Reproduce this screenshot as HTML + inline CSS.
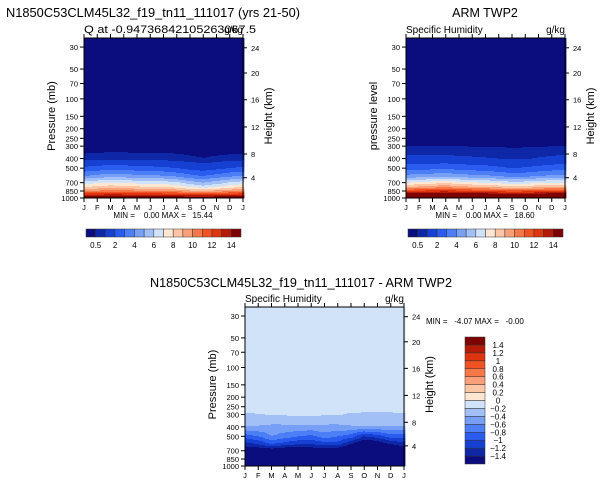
<!DOCTYPE html>
<html><head><meta charset="utf-8"><style>
body{margin:0;background:#fff;}
svg{display:block;font-family:"Liberation Sans",sans-serif;}
text{white-space:pre;}
</style></head><body>
<svg id="fig" width="601" height="485" viewBox="0 0 601 485">
<g id="root"></g>
</svg>
<script>
// ---------- data ----------
const months = ["J","F","M","A","M","J","J","A","S","O","N","D","J"];
const pLevels = [1000, 925, 850, 775, 700, 600, 500, 400, 300, 250, 30];
const pTicks = [30, 50, 70, 100, 150, 200, 250, 300, 400, 500, 700, 850, 1000];
const zTicks = [24, 20, 16, 12, 8, 4];
const zTickPressure = [30.5, 54.8, 102, 192, 360, 624];
// model Q (g/kg), rows = pLevels, cols = months
const modelQ = [
 [15.4,15.4,15.4,15.4,15.4,15.3,15.3,15.2,15.0,15.0,15.2,15.3,15.4],
 [13.0,13.0,13.2,13.1,13.0,13.0,12.9,12.8,12.5,12.4,12.6,12.9,13.0],
 [10.0,10.2,10.5,10.4,10.2,10.1,10.0, 9.8, 9.3, 9.0, 9.4, 9.8,10.0],
 [ 8.0, 8.3, 8.6, 8.4, 8.2, 8.1, 8.0, 7.7, 7.0, 6.5, 7.0, 7.6, 8.0],
 [ 6.5, 6.8, 7.0, 6.9, 6.7, 6.6, 6.5, 6.2, 5.5, 5.0, 5.5, 6.1, 6.5],
 [ 4.0, 4.3, 4.6, 4.5, 4.3, 4.2, 4.1, 3.8, 3.3, 3.0, 3.4, 3.8, 4.0],
 [ 2.2, 2.4, 2.6, 2.5, 2.4, 2.3, 2.2, 2.0, 1.7, 1.5, 1.7, 2.0, 2.2],
 [ 0.7, 0.75,0.8, 0.78,0.75,0.72,0.72,0.7, 0.6, 0.52,0.6, 0.66,0.7],
 [ 0.2, 0.21,0.22,0.22,0.21,0.21,0.21,0.2, 0.18,0.17,0.18,0.19,0.2],
 [ 0.1, 0.1, 0.1, 0.1, 0.1, 0.1, 0.1, 0.1, 0.1, 0.1, 0.1, 0.1, 0.1],
 [ 0,0,0,0,0,0,0,0,0,0,0,0,0]
];
// ARM TWP2 observed Q (g/kg)
const obsQ = [
 [18.0,18.2,18.3,18.4,18.3,18.2,18.0,17.9,17.8,17.9,18.0,18.1,18.0],
 [15.0,15.2,15.5,15.6,15.3,15.1,15.0,14.8,14.6,14.7,14.9,15.0,15.0],
 [12.0,12.2,12.5,12.7,12.3,12.1,12.0,11.7,11.5,11.6,11.8,12.0,12.0],
 [ 9.0, 9.3, 9.6, 9.9, 9.4, 9.2, 9.0, 8.7, 8.4, 8.5, 8.8, 9.0, 9.0],
 [ 7.0, 7.2, 7.5, 7.8, 7.4, 7.1, 7.0, 6.7, 6.4, 6.5, 6.8, 7.0, 7.0],
 [ 4.3, 4.4, 4.6, 4.7, 4.5, 4.3, 4.2, 3.9, 3.6, 3.7, 4.0, 4.2, 4.3],
 [ 2.6, 2.6, 2.7, 2.8, 2.6, 2.5, 2.4, 2.2, 2.0, 2.1, 2.3, 2.5, 2.6],
 [ 1.2, 1.2, 1.2, 1.2, 1.15,1.1, 1.05,1.0, 0.9, 0.95,1.05,1.15,1.2],
 [ 0.5, 0.5, 0.5, 0.5, 0.49,0.48,0.47,0.46,0.44,0.45,0.47,0.49,0.5],
 [ 0.3, 0.3, 0.3, 0.3, 0.3, 0.3, 0.29,0.28,0.27,0.27,0.28,0.29,0.3],
 [ 0,0,0,0,0,0,0,0,0,0,0,0,0]
];
// difference model - obs
const diffQ = [
 [-2.6,-2.8,-2.9,-3.0,-2.9,-2.9,-2.7,-2.7,-2.8,-2.9,-2.8,-2.8,-2.6],
 [-2.0,-2.2,-2.3,-2.5,-2.3,-2.1,-2.1,-2.0,-2.1,-2.3,-2.3,-2.1,-2.0],
 [-2.0,-2.0,-2.0,-2.3,-2.1,-2.0,-2.0,-1.9,-2.2,-2.6,-2.4,-2.2,-2.0],
 [-1.8,-1.8,-1.8,-2.0,-1.9,-1.8,-1.8,-1.7,-2.0,-2.3,-2.1,-1.9,-1.8],
 [-1.6,-1.6,-1.6,-1.7,-1.7,-1.6,-1.6,-1.6,-1.9,-2.0,-1.9,-1.7,-1.6],
 [-1.3,-1.2,-1.0,-1.1,-1.2,-1.2,-1.1,-1.1,-1.4,-1.7,-1.6,-1.4,-1.3],
 [-0.9,-0.8,-0.6,-0.7,-0.8,-0.85,-0.7,-0.8,-0.9,-1.2,-1.1,-0.9,-0.9],
 [-0.42,-0.42,-0.45,-0.45,-0.45,-0.45,-0.45,-0.45,-0.42,-0.42,-0.42,-0.42,-0.42],
 [-0.22,-0.21,-0.19,-0.18,-0.17,-0.17,-0.18,-0.19,-0.22,-0.23,-0.23,-0.23,-0.22],
 [-0.12,-0.12,-0.12,-0.12,-0.12,-0.12,-0.12,-0.12,-0.12,-0.12,-0.12,-0.12,-0.12],
 [-0.05,-0.05,-0.05,-0.05,-0.05,-0.05,-0.05,-0.05,-0.05,-0.05,-0.05,-0.05,-0.05]
];
const qLevels = [0.5,1,2,3,4,5,6,7,8,9,10,11,12,13,14];
const qLabels = ["0.5","2","4","6","8","10","12","14"];
const dLevels = [-1.4,-1.2,-1,-0.8,-0.6,-0.4,-0.2,0,0.2,0.4,0.6,0.8,1,1.2,1.4];
const dLabels = ["-1.4","-1.2","-1","-0.8","-0.6","-0.4","-0.2","0","0.2","0.4","0.6","0.8","1","1.2","1.4"];
const palette = ["#0b0c7e","#0e27a6","#1640d2","#2b5cf0","#4c7ef5","#779ff6","#a3c0f6","#d1e3f9",
                 "#fde6d2","#fcc6a6","#f9a078","#f67848","#f15224","#df3410","#b51b08","#7d0202"];

// ---------- helpers ----------
const NS="http://www.w3.org/2000/svg";
const root=document.getElementById('root');
function mk(tag,attrs,parent){const e=document.createElementNS(NS,tag);for(const k in attrs)e.setAttribute(k,attrs[k]);(parent||root).appendChild(e);return e;}
function txt(x,y,s,size,anchor,parent,extra){const t=mk('text',Object.assign({x:x,y:y,'font-size':size,'text-anchor':anchor||'start',fill:'#000'},extra||{}),parent);t.textContent=s;return t;}
const PTOP=24.3;
function colorIdx(v,levels){let i=0;while(i<levels.length&&v>=levels[i])i++;return i;}
function valueAt(data,m,p){
  const lp=Math.log(p);
  let k=0;while(k<pLevels.length-2&&Math.log(pLevels[k+1])>lp)k++;
  const l0=Math.log(pLevels[k]),l1=Math.log(pLevels[k+1]);
  let t=(l0-lp)/(l0-l1);t=Math.max(0,Math.min(1,t));
  const m0=Math.min(11,Math.floor(m)),fm=m-m0;
  const a=data[k][m0]*(1-fm)+data[k][m0+1]*fm;
  const b=data[k+1][m0]*(1-fm)+data[k+1][m0+1]*fm;
  return a*(1-t)+b*t;
}

function plot(cfg){
  const g=mk('g',{});
  
  
  const L=cfg.x,T=cfg.y,W=cfg.w,H=cfg.h;
  const yP=p=>T+(Math.log(p)-Math.log(PTOP))/(Math.log(1000)-Math.log(PTOP))*H;
  const pY=y=>Math.exp(Math.log(PTOP)+(y-T)/H*(Math.log(1000)-Math.log(PTOP)));
  const xM=m=>L+m/12*W;
  const field=mk('g',{},g);
  
  
  const cw=2;
  for(let cx=0;cx<W;cx+=cw){
    const m=(cx+cw/2)/W*12;
    let runStart=0,runC=-1;
    for(let ry=0;ry<=H;ry++){
      let c=-1;
      if(ry<H){c=colorIdx(valueAt(cfg.data,m,pY(T+ry+0.5)),cfg.levels);}
      if(c!==runC){
        if(runC>=0){const r=mk('rect',{x:L+cx,y:T+runStart,width:cw+0.4,height:ry-runStart+0.4,fill:palette[runC]},field);
          
          }
        runStart=ry;runC=c;
      }
    }
  }
  const fr=mk('rect',{x:L,y:T,width:W,height:H,fill:'none',stroke:'#000','stroke-width':1},g);
  
  
  months.forEach((mo,i)=>{
    const x=xM(i);
    mk('line',{x1:x,y1:T+H,x2:x,y2:T+H+4,stroke:'#000'},g);
    mk('line',{x1:x,y1:T,x2:x,y2:T-4,stroke:'#000'},g);
    const t=txt(x,T+H+12,mo,7.5,'middle',g);
    
    
  });
  pTicks.forEach(p=>{
    const y=yP(p);
    mk('line',{x1:L,y1:y,x2:L-4,y2:y,stroke:'#000'},g);
    const t=txt(L-6,y+3,String(p),7.5,'end',g);
    
    
  });
  zTicks.forEach((z,i)=>{
    const y=yP(zTickPressure[i]);
    mk('line',{x1:L+W,y1:y,x2:L+W+4,y2:y,stroke:'#000'},g);
    const t=txt(L+W+8,y+3,String(z),7.5,'start',g);
    
    
  });
  const yt=txt(0,0,cfg.ylabel,11,'middle',g,{transform:`translate(${cfg.ylx},${T+H/2-2}) rotate(-90)`});
  
  
  const ht=txt(0,0,'Height (km)',11,'middle',g,{transform:`translate(${L+W+29},${T+H/2-2}) rotate(-90)`});
  
  
  const lext=cfg.leftLen?{textLength:cfg.leftLen,lengthAdjust:'spacingAndGlyphs'}:{};
  const ls=txt(L,T-5,cfg.left,cfg.leftSize||10,'start',g,lext);
  
  
  const rs=txt(L+W,T-5,'g/kg',10,'end',g);
  
  
}
function hbar(x,y,w,h,name){
  const g=mk('g',{});
  
  
  const bw=w/16;
  palette.forEach((c,i)=>{
    const r=mk('rect',{x:x+i*bw,y:y,width:bw,height:h,fill:c,stroke:'#333','stroke-width':0.5},g);
    
    
  });
  qLabels.forEach((s,j)=>{
    const t=txt(x+(1+2*j)*bw,y+h+11,s,8,'middle',g);
    
    
  });
}

let t=txt(6,17,'N1850C53CLM45L32_f19_tn11_111017 (yrs 21-50)',12.5,'start',root,{textLength:294,lengthAdjust:'spacingAndGlyphs'});

t=txt(485,17,'ARM TWP2',12.5,'middle');

t=txt(301,287,'N1850C53CLM45L32_f19_tn11_111017 - ARM TWP2',12.5,'middle',root,{textLength:302,lengthAdjust:'spacingAndGlyphs'});


plot({name:'model-plot',x:84,y:38,w:159,h:160,data:modelQ,levels:qLevels,ylabel:'Pressure (mb)',ylx:55,left:'Q at -0.94736842105263067.5',leftSize:11,leftLen:172});
plot({name:'obs-plot',x:406,y:38,w:159,h:160,data:obsQ,levels:qLevels,ylabel:'pressure level',ylx:377,left:'Specific Humidity'});
plot({name:'difference-plot',x:245,y:307,w:159,h:159,data:diffQ,levels:dLevels,ylabel:'Pressure (mb)',ylx:216,left:'Specific Humidity'});

t=txt(163,218,'MIN =    0.00 MAX =   15.44',8,'middle');

t=txt(485,218,'MIN =    0.00 MAX =   18.60',8,'middle');

t=txt(426,324,'MIN =   -4.07 MAX =   -0.00',8,'start');


hbar(86,229,155,8,'model-colorbar');
hbar(408,229,155,8,'obs-colorbar');

(function(){
  const g=mk('g',{});
  
  
  const x=465,y=337,w=20,h=127,bh=h/16;
  palette.forEach((c,i)=>{
    const r=mk('rect',{x:x,y:y+h-(i+1)*bh,width:w,height:bh,fill:c,stroke:'#333','stroke-width':0.5},g);
    
    
  });
  dLabels.forEach((s,j)=>{
    const tt=txt(498,y+h-(j+1)*bh+3,s.replace('-','\u2212'),8,'middle',g);
    
    
  });
})();
</script>
</body></html>
